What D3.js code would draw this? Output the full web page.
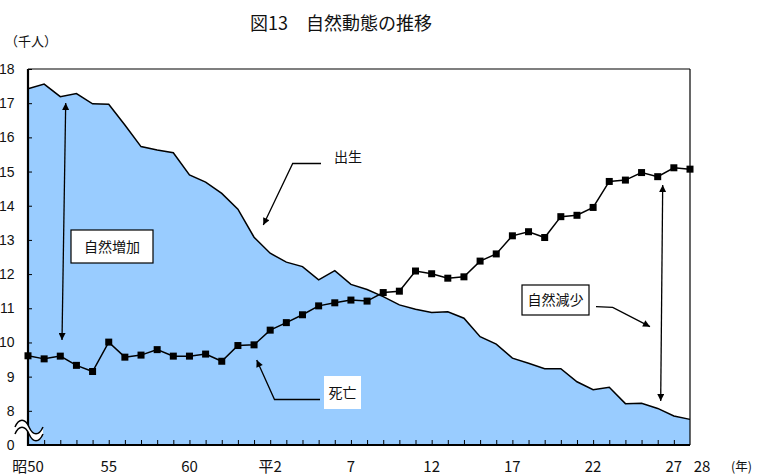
<!DOCTYPE html>
<html><head><meta charset="utf-8">
<script src="https://cdn.jsdelivr.net/npm/d3@7"></script>
<style>
html,body{margin:0;padding:0;background:#fff;}
svg{display:block;font-family:"Liberation Sans Narrow","Noto Sans CJK JP",sans-serif;}
.cjk{font-family:"Noto Sans CJK JP",sans-serif;}
</style></head>
<body>
<svg id="chart" width="758" height="475"></svg>
<script>
// ---- data (昭50=1975 ... 平28=2016), thousands of persons ----
const yearIndex = d3.range(42);
const births = [17.42,17.56,17.19,17.28,16.98,16.97,16.36,15.73,15.63,15.55,
  14.90,14.69,14.36,13.90,13.08,12.61,12.35,12.22,11.83,12.10,
  11.70,11.55,11.34,11.10,10.97,10.88,10.90,10.71,10.17,9.95,
  9.54,9.39,9.23,9.23,8.85,8.62,8.69,8.21,8.22,8.07,
  7.85,7.75];
const deaths = [9.61,9.52,9.60,9.33,9.15,10.01,9.57,9.63,9.79,9.60,
  9.60,9.66,9.45,9.91,9.93,10.36,10.58,10.81,11.07,11.16,
  11.24,11.21,11.46,11.50,12.09,12.01,11.88,11.92,12.38,12.59,
  13.12,13.24,13.07,13.68,13.72,13.95,14.71,14.75,14.97,14.85,
  15.11,15.07];
const xLabelIndex = [0,5,10,15,20,25,30,35,40,41];
const xLabels = ["昭50","55","60","平2","7","12","17","22","27","28"];
const yTicks = [7,8,9,10,11,12,13,14,15,16,17,18];   // 7 = broken-axis "0"

const svg = d3.select("#chart");
const L = 28, R = 690, T = 69, B = 445;
const x = d3.scaleLinear().domain([0,41]).range([L,R]);
const y = d3.scaleLinear().domain([7,18]).range([B,T]);

// title
svg.append("text").attr("x",341).attr("y",30).attr("text-anchor","middle")
  .attr("font-size",18).attr("fill","#111").text("図13　自然動態の推移");
svg.append("text").attr("class","cjk").attr("x",5).attr("y",46)
  .attr("font-size",13).attr("fill","#111").text("（千人）");

// area of births
svg.append("path").datum(births)
  .attr("d", d3.area().x((d,i)=>x(i)).y0(B).y1(d=>y(d)))
  .attr("fill","#99CCFF");

// borders
svg.append("line").attr("x1",L).attr("x2",R).attr("y1",T).attr("y2",T).attr("stroke","#000").attr("stroke-width",1.2);
svg.append("line").attr("x1",R).attr("x2",R).attr("y1",T).attr("y2",B).attr("stroke","#000").attr("stroke-width",1.2);

// y axis
const yAxis = d3.axisLeft(y).tickValues(yTicks).tickSizeInner(-4).tickSizeOuter(0).tickPadding(13.5)
  .tickFormat(d => d === 7 ? "0" : d);
const gy = svg.append("g").attr("transform",`translate(${L},0)`).call(yAxis);
gy.select(".domain").remove();
gy.selectAll("line").attr("stroke","#000").attr("stroke-width",1);
gy.selectAll("text").attr("font-size",14).attr("fill","#111").attr("font-family",null);

// x axis ticks
const xAxis = d3.axisBottom(x).tickValues(d3.range(1,41)).tickSizeInner(-5).tickSizeOuter(0).tickFormat("");
const gx = svg.append("g").attr("transform",`translate(0,${B})`).call(xAxis);
gx.select(".domain").remove();
gx.selectAll("line").attr("stroke","#000").attr("stroke-width",1);

// thick left / bottom axis lines
svg.append("line").attr("x1",L).attr("x2",L).attr("y1",T).attr("y2",B+1).attr("stroke","#000").attr("stroke-width",2.2);
svg.append("line").attr("x1",L-1).attr("x2",R).attr("y1",B).attr("y2",B).attr("stroke","#000").attr("stroke-width",2.2);

// x labels
svg.append("g").selectAll("text").data(xLabelIndex).join("text")
  .attr("x",(d,i)=> x(d) + (i === xLabels.length-1 ? 12 : 0))
  .attr("y",472).attr("text-anchor","middle").attr("font-size",15).attr("fill","#111")
  .text((d,i)=>xLabels[i]);
svg.append("text").attr("class","cjk").attr("x",731).attr("y",471).attr("font-size",12.5).attr("fill","#111").text("(年)");

// broken axis symbol
const wave = (oy) => `M15,${oy} C19,${oy-9} 25,${oy-9} 29,${oy} S39,${oy+9} 43,${oy}`;
svg.append("path").attr("d", wave(427) + " L43,434 C39,443 33,443 29,434 S19,425 15,434 Z")
  .attr("fill","#fff").attr("stroke","none");
svg.append("path").attr("d",wave(427)).attr("fill","none").attr("stroke","#000").attr("stroke-width",1.5);
svg.append("path").attr("d",wave(434)).attr("fill","none").attr("stroke","#000").attr("stroke-width",1.5);

// birth line
svg.append("path").datum(births)
  .attr("d", d3.line().x((d,i)=>x(i)).y(d=>y(d)))
  .attr("fill","none").attr("stroke","#000").attr("stroke-width",1.5);

// death line + markers
svg.append("path").datum(deaths)
  .attr("d", d3.line().x((d,i)=>x(i)).y(d=>y(d)))
  .attr("fill","none").attr("stroke","#000").attr("stroke-width",1.5);
svg.append("g").selectAll("rect").data(deaths).join("rect")
  .attr("x",(d,i)=>x(i)-3.5).attr("y",d=>y(d)-3.5).attr("width",7).attr("height",7).attr("fill","#000");

// arrows
const defs = svg.append("defs");
defs.append("marker").attr("id","ah").attr("viewBox","0 0 10 10").attr("refX",10).attr("refY",5)
  .attr("markerWidth",9).attr("markerHeight",7).attr("markerUnits","userSpaceOnUse").attr("orient","auto-start-reverse")
  .append("path").attr("d","M0,0 L10,5 L0,10 Z").attr("fill","#000");

function poly(pts, both){
  const p = svg.append("polyline").attr("points", pts.map(p=>p.join(",")).join(" "))
    .attr("fill","none").attr("stroke","#000").attr("stroke-width",1.3).attr("marker-end","url(#ah)");
  if (both) p.attr("marker-start","url(#ah)");
}
poly([[62,340],[65.7,103]], true);
poly([[660.7,401],[662.7,185]], true);
poly([[321,163.5],[292.7,163.5],[263.3,225]]);
poly([[320,399.5],[274.5,399.5],[256.7,360]]);
poly([[596,306.7],[612.7,307.3],[650,326.7]]);

// labels
function box(x0,y0,w,h,txt,stroke){
  svg.append("rect").attr("x",x0).attr("y",y0).attr("width",w).attr("height",h)
    .attr("fill","#fff").attr("stroke",stroke?"#000":"none").attr("stroke-width",1.2);
  svg.append("text").attr("class","cjk").attr("x",x0+w/2).attr("y",y0+h/2+5).attr("text-anchor","middle")
    .attr("font-size",14).attr("fill","#111").text(txt);
}
box(71,230,82,33,"自然増加",true);
box(522,285,67,30,"自然減少",true);
box(324,376,37,33,"死亡",false);
svg.append("text").attr("class","cjk").attr("x",348).attr("y",162).attr("text-anchor","middle")
  .attr("font-size",14).attr("fill","#111").text("出生");
</script>
</body></html>
